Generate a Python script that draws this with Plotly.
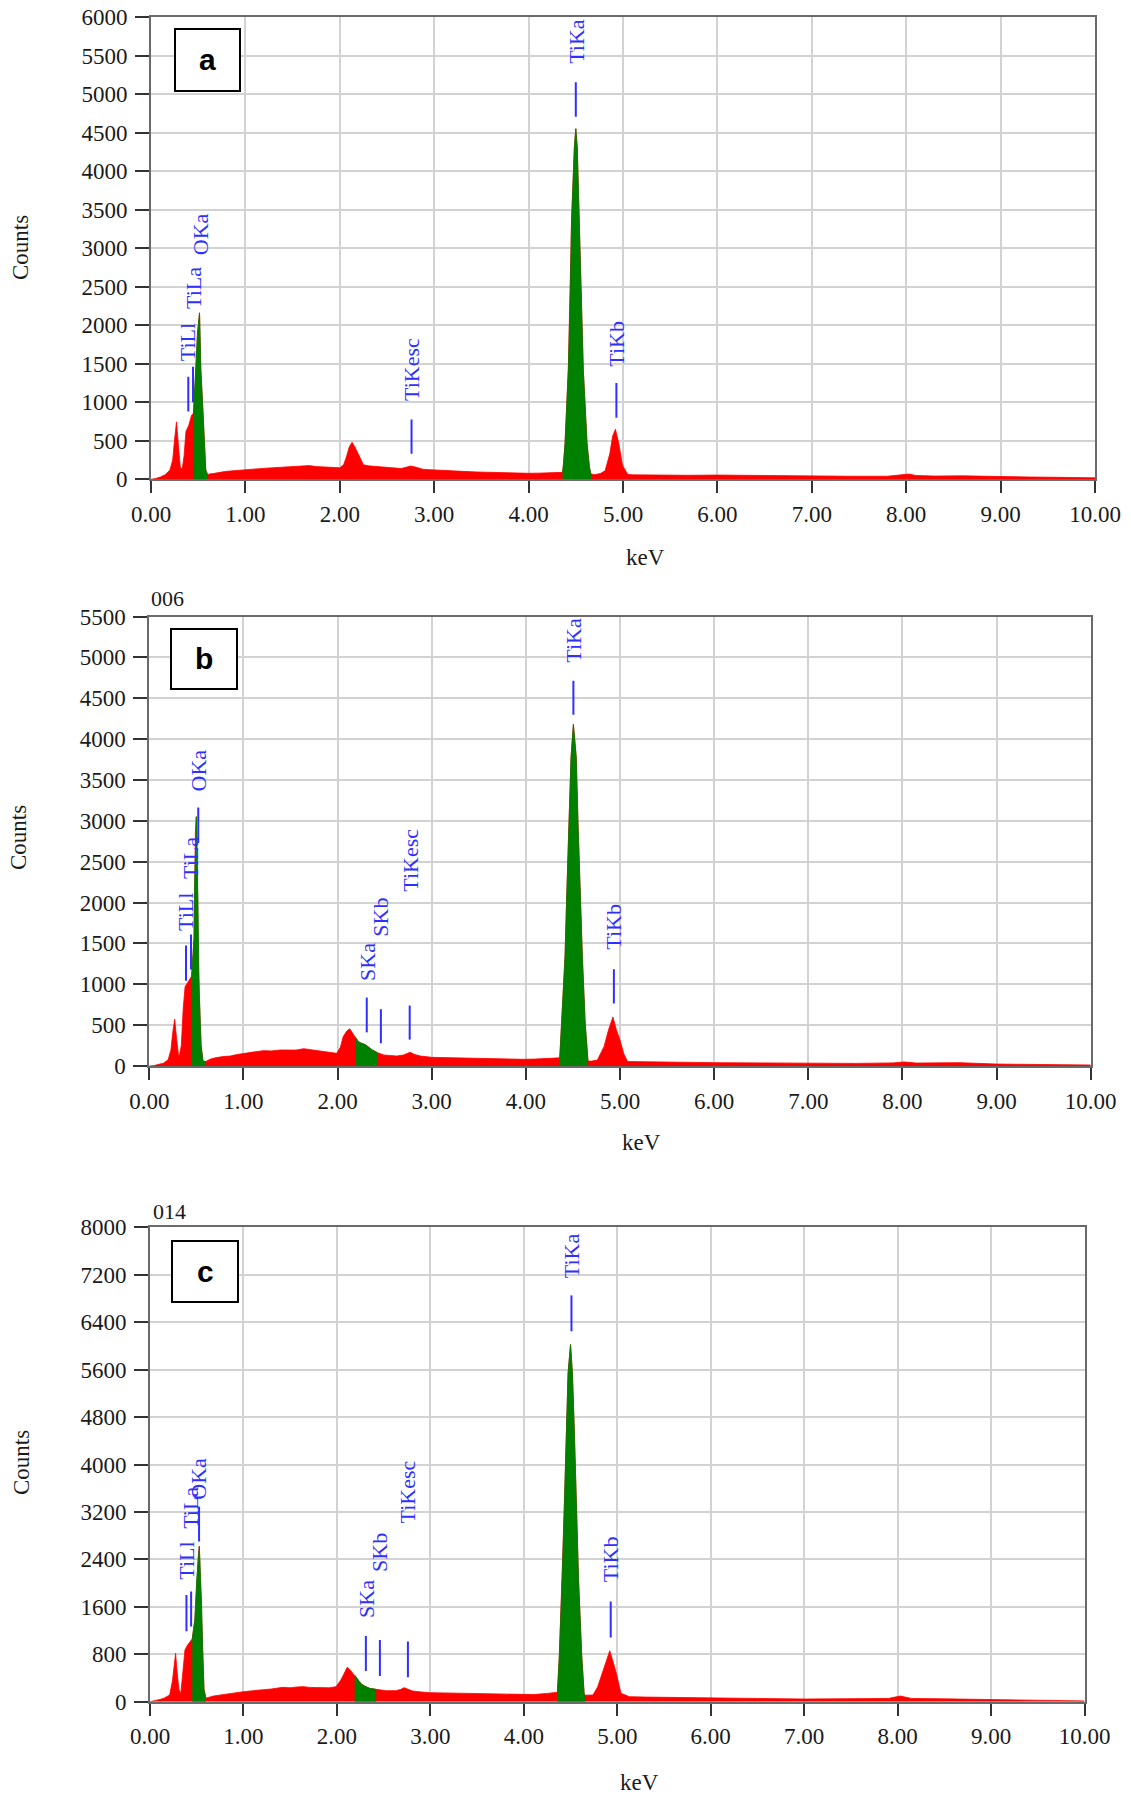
import plotly.graph_objects as go

W, H = 1131, 1796

# ---------------- data ----------------
energy_a = [0.00, 0.05, 0.10, 0.15, 0.20, 0.23, 0.25, 0.27, 0.29, 0.31, 0.33, 0.35, 0.37, 0.40, 0.43,
            0.45, 0.475, 0.493, 0.514, 0.528, 0.546, 0.563, 0.58, 0.60,
            0.62, 0.66, 0.72, 0.78, 0.84, 0.90, 0.96, 1.00, 1.08, 1.15, 1.22, 1.30, 1.38, 1.46, 1.54,
            1.62, 1.68, 1.75, 1.82, 1.89, 1.95, 2.00, 2.04, 2.07, 2.10, 2.13, 2.16, 2.19, 2.22, 2.25,
            2.30, 2.35, 2.42, 2.50, 2.58, 2.65, 2.70, 2.75, 2.80, 2.88, 2.95, 3.00, 3.10, 3.20, 3.30,
            3.45, 3.60, 3.75, 3.90, 4.00, 4.10, 4.20, 4.30,
            4.36, 4.37, 4.386, 4.421, 4.441, 4.455, 4.485, 4.50, 4.515, 4.535, 4.554, 4.579, 4.619, 4.645, 4.66,
            4.70, 4.76, 4.81, 4.86, 4.89, 4.92, 4.955, 4.995, 5.05, 5.10, 5.30, 5.50, 5.70, 6.00, 6.30,
            6.60, 7.00, 7.40, 7.80, 7.95, 8.03, 8.10, 8.30, 8.60, 8.80, 9.00, 9.30, 9.60, 10.00]
counts_a = [0, 10, 30, 60, 120, 250, 520, 745, 450, 160, 130, 300, 620, 700, 830,
            860, 1420, 1900, 2160, 1420, 990, 470, 120, 60,
            70, 75, 90, 100, 108, 112, 118, 122, 130, 138, 145, 150, 160, 168, 175,
            172, 178, 165, 160, 155, 150, 150, 190, 290, 420, 480, 420, 340, 260, 190,
            175, 170, 160, 150, 142, 140, 155, 172, 160, 130, 125, 121, 115, 108, 103,
            95, 88, 84, 80, 78, 80, 82, 86,
            90, 200, 466, 1428, 2389, 3351, 4312, 4550, 4312, 3351, 2389, 1428, 466, 150, 70,
            60, 75, 110, 330, 560, 650, 470, 180, 65, 58, 55, 56, 52, 55, 50,
            47, 43, 40, 40, 55, 68, 50, 42, 45, 38, 34, 30, 26, 19]

energy_b = [0.00, 0.05, 0.10, 0.15, 0.20, 0.23, 0.25, 0.27, 0.29, 0.31, 0.32, 0.34, 0.36, 0.38, 0.415, 0.44,
            0.45, 0.475, 0.482, 0.49, 0.50, 0.51, 0.515, 0.52, 0.53, 0.55, 0.57, 0.60,
            0.645, 0.70, 0.78, 0.86, 0.93, 1.00, 1.10, 1.21, 1.30, 1.39, 1.48, 1.56, 1.64, 1.71, 1.78,
            1.85, 1.92, 1.99, 2.03, 2.06, 2.10, 2.13, 2.16,
            2.19, 2.22, 2.24, 2.27, 2.30, 2.33, 2.37, 2.42,
            2.45, 2.49, 2.56, 2.63, 2.70, 2.77, 2.82, 2.88, 3.00, 3.15, 3.34, 3.50, 3.70, 3.85, 3.97,
            4.10, 4.25, 4.35,
            4.36, 4.38, 4.416, 4.436, 4.455, 4.48, 4.505, 4.535, 4.554, 4.574, 4.60, 4.63, 4.66,
            4.70, 4.76, 4.83, 4.88, 4.925, 4.96, 5.00, 5.04, 5.08, 5.20, 5.50, 6.00, 6.50, 7.00, 7.50,
            7.90, 8.02, 8.15, 8.60, 9.00, 9.50, 10.00]
counts_b = [0, 5, 20, 35, 75, 200, 420, 575, 330, 140, 125, 250, 700, 970, 1035, 1085,
            1100, 1560, 2260, 2880, 3050, 2500, 2000, 1250, 900, 250, 60, 55,
            82, 100, 115, 122, 140, 155, 170, 188, 185, 196, 200, 195, 212, 200, 188,
            170, 160, 155, 230, 360, 430, 455, 400,
            350, 300, 285, 270, 258, 230, 195, 165,
            150, 135, 128, 122, 135, 167, 140, 122, 106, 102, 98, 92, 86, 84, 82,
            85, 90, 94,
            100, 521, 1335, 2149, 2963, 3777, 4180, 3777, 2963, 2149, 1335, 521, 60,
            60, 73, 237, 450, 600, 450, 318, 150, 55, 52, 48, 41, 38, 33, 32,
            38, 50, 36, 41, 24, 18, 12]

energy_c = [0.00, 0.05, 0.107, 0.15, 0.21, 0.24, 0.26, 0.274, 0.29, 0.31, 0.33, 0.35, 0.374, 0.40, 0.42, 0.445,
            0.452, 0.48, 0.50, 0.518, 0.528, 0.535, 0.542, 0.553, 0.564, 0.578, 0.598,
            0.62, 0.68, 0.76, 0.855, 0.93, 1.00, 1.10, 1.21, 1.30, 1.42, 1.50, 1.58, 1.64, 1.72, 1.78,
            1.85, 1.92, 1.99, 2.04, 2.07, 2.11, 2.14, 2.17,
            2.19, 2.22, 2.26, 2.30, 2.35, 2.42,
            2.47, 2.53, 2.63, 2.68, 2.72, 2.76, 2.81, 2.90, 3.00, 3.15, 3.35, 3.50, 3.70, 3.85, 3.99,
            4.10, 4.25, 4.35,
            4.36, 4.38, 4.41, 4.435, 4.457, 4.474, 4.50, 4.52, 4.54, 4.56, 4.586, 4.62, 4.646, 4.66,
            4.74, 4.79, 4.84, 4.88, 4.92, 4.96, 4.99, 5.04, 5.13, 5.30, 5.60, 6.00, 6.50, 7.00, 7.50,
            7.90, 8.03, 8.15, 8.50, 8.70, 9.00, 9.50, 10.00]
counts_c = [0, 15, 39, 60, 113, 350, 700, 817, 500, 200, 141, 450, 873, 950, 986, 1042,
            1060, 1380, 2056, 2500, 2620, 2300, 2060, 1605, 820, 200, 60,
            70, 96, 115, 141, 155, 169, 185, 197, 215, 242, 235, 250, 254, 240, 238,
            225, 235, 254, 360, 451, 580, 540, 479,
            451, 380, 299, 260, 225, 208,
            195, 186, 186, 205, 237, 215, 180, 165, 152, 148, 141, 135, 130, 120, 113,
            120, 140, 152,
            160, 765, 2040, 3314, 4589, 5545, 6023, 5545, 4589, 3314, 2040, 765, 127, 110,
            113, 250, 479, 700, 860, 650, 479, 141, 85, 78, 70, 64, 55, 45, 45,
            55, 96, 55, 48, 42, 32, 22, 13]

# regions of interest drawn in green (keV)
roi_a = [(0.45, 0.60), (4.36, 4.66)]
roi_b = [(0.45, 0.60), (2.19, 2.42), (4.36, 4.66)]
roi_c = [(0.452, 0.598), (2.19, 2.42), (4.36, 4.66)]

# peak labels: (name, keV, marker bottom, marker top, label bottom) in counts
labels_a = [("TiLl", 0.395, 880, 1330, 1510), ("TiLa", 0.445, 1000, 1460, 2184),
            ("OKa", 0.525, None, None, 2877), ("TiKesc", 2.76, 330, 776, 991),
            ("TiKa", 4.50, 4707, 5154, 5370), ("TiKb", 4.93, 800, 1250, 1440)]
labels_b = [("TiLl", 0.39, 1044, 1474, 1628), ("TiLa", 0.443, 1180, 1610, 2264),
            ("OKa", 0.52, 2730, 3163, 3338), ("SKa", 2.31, 412, 837, 1013),
            ("SKb", 2.46, 278, 695, 1562), ("TiKesc", 2.766, 323, 740, 2110),
            ("TiKa", 4.505, 4298, 4713, 4908), ("TiKb", 4.935, 765, 1184, 1396)]
labels_c = [("TiLl", 0.39, 1190, 1800, 2030), ("TiLa", 0.44, 1268, 1859, 2883),
            ("OKa", 0.525, 2700, 3290, 3373), ("SKa", 2.31, 518, 1110, 1377),
            ("SKb", 2.46, 434, 1042, 2162), ("TiKesc", 2.76, 411, 1014, 2980),
            ("TiKa", 4.51, 6246, 6852, 7107), ("TiKb", 4.93, 1083, 1690, 1976)]

x_ticks = [0, 1, 2, 3, 4, 5, 6, 7, 8, 9, 10]
y_max = [6000, 5500, 8000]
y_step = [500, 500, 800]
panel_letters = ["a", "b", "c"]
panel_tags = [None, "006", "014"]

# ---------------- layout geometry (pixels) ----------------
geom = [
    dict(x0=151, x1=1095, y0=17, y1=479.3, box=(175, 29, 240, 91), tag=None,
         kev=(645, 557), counts=(21, 248)),
    dict(x0=149.3, x1=1090.7, y0=616.5, y1=1066, box=(171, 629, 237, 689), tag=(149, 598),
         kev=(641, 1142), counts=(19, 838)),
    dict(x0=150, x1=1084.5, y0=1227.3, y1=1701.7, box=(172, 1241, 238, 1302), tag=(151, 1211),
         kev=(639, 1782), counts=(21, 1463)),
]

def px(x):
    return x / W

def py(y):
    return 1 - y / H

RED = "#ff0000"
GREEN = "#008000"
BLUE = "#2f2fff"
SERIF = "Liberation Serif"

fig = go.Figure()
layout = dict(width=W, height=H, margin=dict(l=0, r=0, t=0, b=0, autoexpand=False),
              paper_bgcolor="white", plot_bgcolor="white", showlegend=False)
annotations = []
shapes = []

datasets = [(energy_a, counts_a, roi_a, labels_a),
            (energy_b, counts_b, roi_b, labels_b),
            (energy_c, counts_c, roi_c, labels_c)]

for i, (ev, cv, rois, labels) in enumerate(datasets):
    g = geom[i]
    sfx = "" if i == 0 else str(i + 1)
    xa, ya = "x" + sfx, "y" + sfx
    # red spectrum
    fig.add_trace(go.Scatter(x=ev, y=cv, mode="lines", fill="tozeroy",
                             fillcolor=RED, line=dict(color=RED, width=0.8),
                             xaxis=xa, yaxis=ya, hoverinfo="skip"))
    # green ROI
    for lo, hi in rois:
        sx = [e for e in ev if lo - 1e-9 <= e <= hi + 1e-9]
        sy = [c for e, c in zip(ev, cv) if lo - 1e-9 <= e <= hi + 1e-9]
        fig.add_trace(go.Scatter(x=sx, y=sy, mode="lines", fill="tozeroy",
                                 fillcolor=GREEN, line=dict(color=GREEN, width=0.8),
                                 xaxis=xa, yaxis=ya, hoverinfo="skip"))
    # label markers
    lx, ly = [], []
    for name, kev, lo, hi, tb in labels:
        if lo is not None:
            lx += [kev, kev, None]
            ly += [lo, hi, None]
        annotations.append(dict(x=kev, y=tb, xref=xa, yref=ya, text=name, showarrow=False,
                                textangle=-90, xanchor="center", yanchor="bottom",
                                font=dict(family=SERIF, size=22, color=BLUE)))
    fig.add_trace(go.Scatter(x=lx, y=ly, mode="lines", line=dict(color=BLUE, width=2),
                             xaxis=xa, yaxis=ya, hoverinfo="skip"))

    axis_common = dict(showgrid=True, gridcolor="#d2d2d2", gridwidth=2,
                       showline=True, linecolor="#6a6a6a", linewidth=2, mirror=True,
                       ticks="outside", tickcolor="#333333", tickwidth=2,
                       tickfont=dict(family=SERIF, size=23, color="#1a1a1a"),
                       zeroline=False, fixedrange=True, automargin=False)
    layout["xaxis" + sfx] = dict(axis_common, domain=[px(g["x0"]), px(g["x1"])],
                                 range=[0, 10], tickvals=x_ticks,
                                 ticktext=["%.2f" % t for t in x_ticks],
                                 ticklen=12, ticklabelstandoff=1,
                                 anchor=ya)
    ymx, yst = y_max[i], y_step[i]
    layout["yaxis" + sfx] = dict(axis_common, domain=[py(g["y1"]), py(g["y0"])],
                                 range=[0, ymx], tick0=0, dtick=yst,
                                 ticklen=14, ticklabelstandoff=3,
                                 anchor=xa)
    # axis titles
    kx, ky = g["kev"]
    annotations.append(dict(x=px(kx), y=py(ky), xref="paper", yref="paper", text="keV",
                            showarrow=False, xanchor="center", yanchor="middle",
                            font=dict(family=SERIF, size=23, color="#1a1a1a")))
    cx, cy = g["counts"]
    annotations.append(dict(x=px(cx), y=py(cy), xref="paper", yref="paper", text="Counts",
                            showarrow=False, xanchor="center", yanchor="middle", textangle=-90,
                            font=dict(family=SERIF, size=23, color="#1a1a1a")))
    # panel tag
    if panel_tags[i] is not None:
        tx, ty = g["tag"]
        annotations.append(dict(x=px(tx), y=py(ty), xref="paper", yref="paper",
                                text=panel_tags[i], showarrow=False, xanchor="left",
                                yanchor="middle",
                                font=dict(family=SERIF, size=22, color="#1a1a1a")))
    # letter box
    bx0, by0, bx1, by1 = g["box"]
    shapes.append(dict(type="rect", xref="paper", yref="paper",
                       x0=px(bx0), x1=px(bx1), y0=py(by1), y1=py(by0),
                       line=dict(color="black", width=2), fillcolor="white", layer="above"))
    annotations.append(dict(x=px((bx0 + bx1) / 2), y=py((by0 + by1) / 2), xref="paper",
                            yref="paper", text="<b>%s</b>" % panel_letters[i], showarrow=False,
                            xanchor="center", yanchor="middle",
                            font=dict(family="Liberation Sans", size=30, color="black")))

layout["annotations"] = annotations
layout["shapes"] = shapes
fig.update_layout(**layout)
fig.write_html("out.html")
